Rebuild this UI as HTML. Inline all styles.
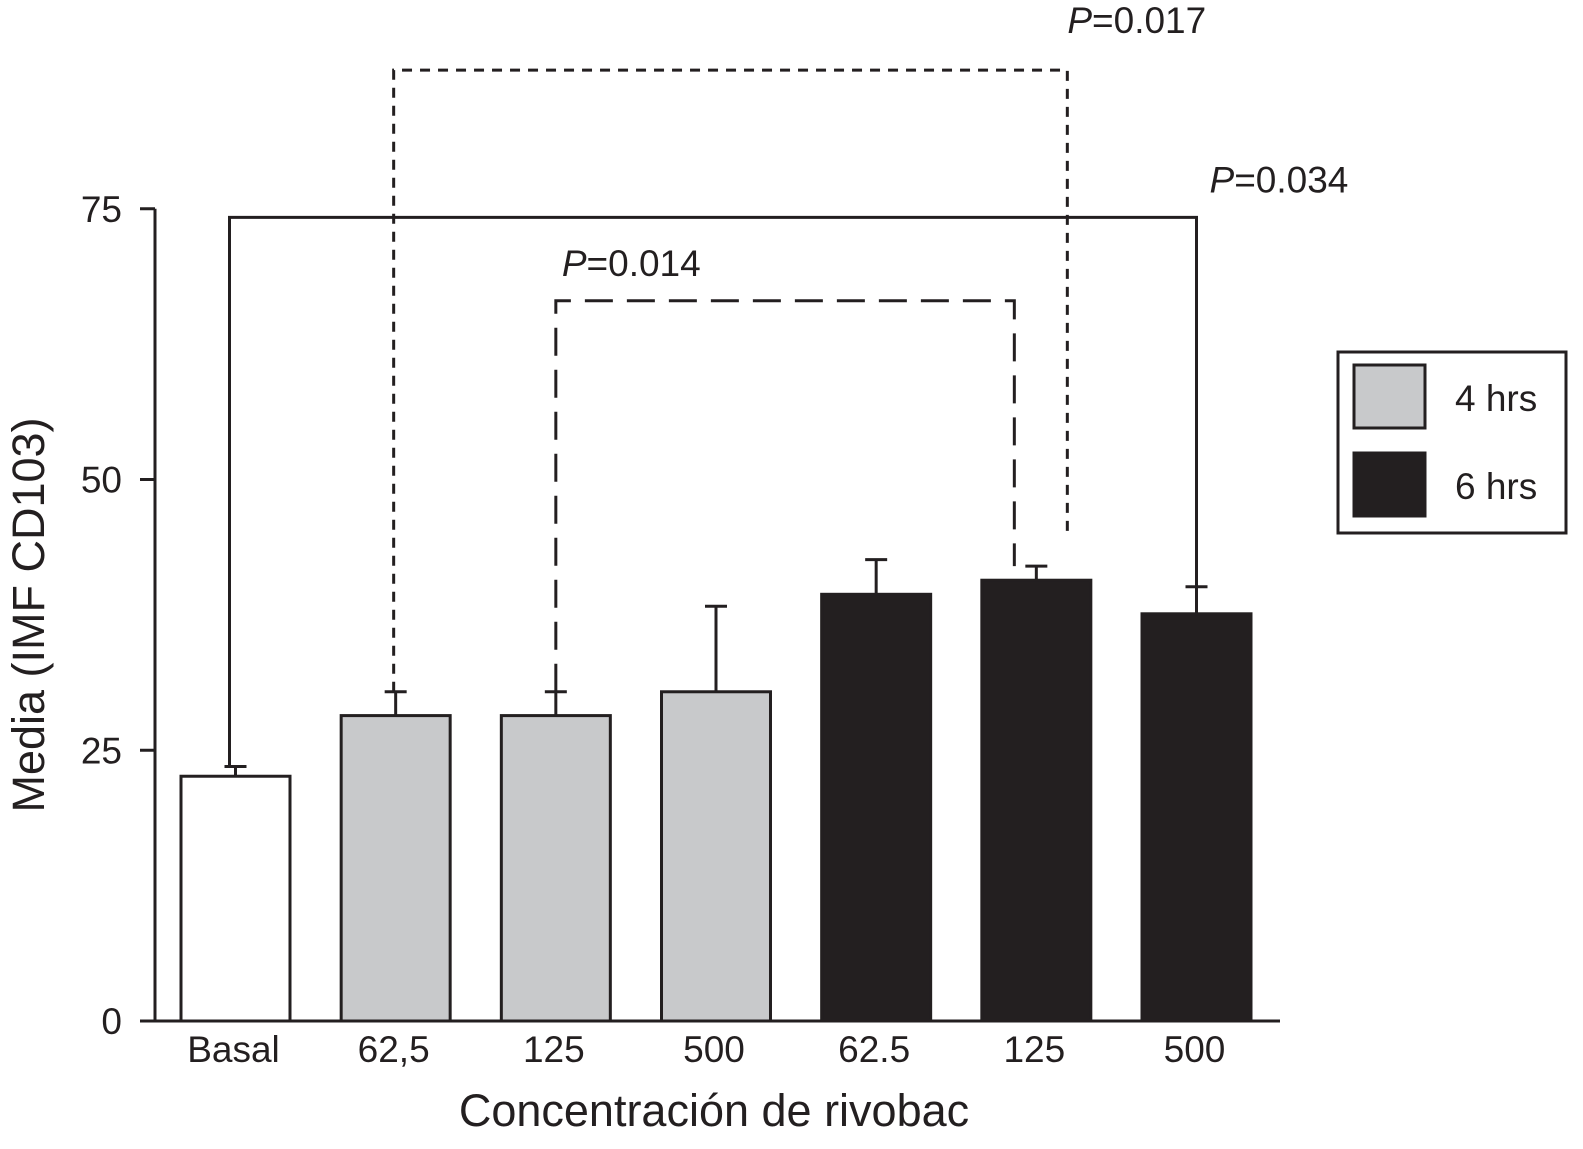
<!DOCTYPE html>
<html><head><meta charset="utf-8"><style>
html,body{margin:0;padding:0;background:#fff}
svg{display:block;font-family:"Liberation Sans",Arial,sans-serif}
</style></head><body>
<svg id="chart" width="1583" height="1149" viewBox="0 0 1583 1149" xmlns="http://www.w3.org/2000/svg"></svg>
<script>
const categories = ["Basal","62,5","125","500","62.5","125","500"];
const groups = ["basal","4h","4h","4h","6h","6h","6h"];
const means = [22.6, 28.2, 28.2, 30.4, 39.4, 40.7, 37.6];
const errors = [0.9, 2.2, 2.2, 7.9, 3.2, 1.3, 2.5];
const yTicks = [0, 25, 50, 75];
const bracketFrom = [0, 1, 2];
const bracketTo = [6, 5, 5];
const bracketLevel = [74.2, 87.8, 66.5];
const bracketLabels = ["0.034", "0.017", "0.014"];
const NS="http://www.w3.org/2000/svg";
const svg=document.getElementById('chart');
const y0=1021, pxPerUnit=10.83;
function yScale(v){return y0 - v*pxPerUnit;}
const barLefts0=181, step=(1142-181)/6, barW=109;
function xLeft(i){return barLefts0 + i*step;}
function xCenter(i){return xLeft(i)+barW/2;}
function mk(tag,attrs,parent){const e=document.createElementNS(NS,tag);for(const k in attrs)e.setAttribute(k,attrs[k]);(parent||svg).appendChild(e);return e;}
const fills={basal:"#ffffff","4h":"#c8c9cb","6h":"#231f20"};
// bracket styling (pixel offsets, not data)
const bStyle=[
  {dash:"none", dxL:-6, dxR:0, rightGap:0, lblAt:"right", lblDx:13, lblDy:25},
  {dash:"10,8", dxL:-2, dxR:31, rightGap:29, lblAt:"right", lblDx:0, lblDy:37},
  {dash:"28,14", dxL:0, dxR:-22, rightGap:0, lblAt:"left", lblDx:6, lblDy:25}
];
// axes
let ya=mk('line',{x1:155,y1:yScale(75),x2:155,y2:y0,stroke:'#231f20','stroke-width':3});


let xa=mk('line',{x1:140,y1:y0,x2:1280,y2:y0,stroke:'#231f20','stroke-width':3});


yTicks.forEach(t=>{
  const tk=mk('line',{x1:140,y1:yScale(t),x2:155,y2:yScale(t),stroke:'#231f20','stroke-width':3});
  
  
  const tl=mk('text',{x:122,y:yScale(t)+13,'text-anchor':'end','font-size':37,fill:'#231f20'});
  tl.textContent=t;
  
  
});
// brackets
bracketFrom.forEach((f,k)=>{
  const to=bracketTo[k], s=bStyle[k];
  const yl=yScale(bracketLevel[k]);
  const x1=xCenter(f)+s.dxL, x2=xCenter(to)+s.dxR;
  const ya1=yScale(means[f]+errors[f]);
  const ya2=yScale(means[to]+errors[to])-s.rightGap;
  const p=mk('polyline',{points:`${x1},${ya1} ${x1},${yl} ${x2},${yl} ${x2},${ya2}`,fill:'none',stroke:'#231f20','stroke-width':3,'stroke-dasharray':s.dash});
  
  
  const lx = s.lblAt==="right"? x2+s.lblDx : x1+s.lblDx;
  const t=mk('text',{x:lx,y:yl-s.lblDy,'font-size':37,fill:'#231f20'});
  t.innerHTML='<tspan font-style="italic">P</tspan>='+bracketLabels[k];
  
  
});
// bars
categories.forEach((c,i)=>{
  const top=yScale(means[i]);
  const et=yScale(means[i]+errors[i]);
  const el=mk('line',{x1:xCenter(i),y1:top,x2:xCenter(i),y2:et,stroke:'#231f20','stroke-width':3});
  
  
  const ec=mk('line',{x1:xCenter(i)-11,y1:et,x2:xCenter(i)+11,y2:et,stroke:'#231f20','stroke-width':3});
  
  
  const r=mk('rect',{x:xLeft(i),y:top,width:barW,height:y0-top,fill:fills[groups[i]],stroke:'#231f20','stroke-width':3});
  
  
  const l=mk('text',{x:xCenter(i)-2,y:1062,'text-anchor':'middle','font-size':37,fill:'#231f20'});
  l.textContent=c;
  
  
});
// titles
let xt=mk('text',{x:714,y:1126,'text-anchor':'middle','font-size':45,fill:'#231f20'});
xt.textContent='Concentración de rivobac';


let yt=mk('text',{x:0,y:0,'text-anchor':'middle','font-size':45,fill:'#231f20',transform:'translate(44,615) rotate(-90)'});
yt.textContent='Media (IMF CD103)';


// legend
let lg=mk('rect',{x:1338,y:352,width:228,height:181,fill:'#fff',stroke:'#231f20','stroke-width':3});


[["4 hrs","#c8c9cb",365],["6 hrs","#231f20",453]].forEach(([n,f,y])=>{
  const s=mk('rect',{x:1354,y:y,width:71,height:63,fill:f,stroke:'#231f20','stroke-width':3});
  
  
  const t=mk('text',{x:1455,y:y+46,'font-size':37,fill:'#231f20'});
  t.textContent=n;
  
  
});
</script>
</body></html>
